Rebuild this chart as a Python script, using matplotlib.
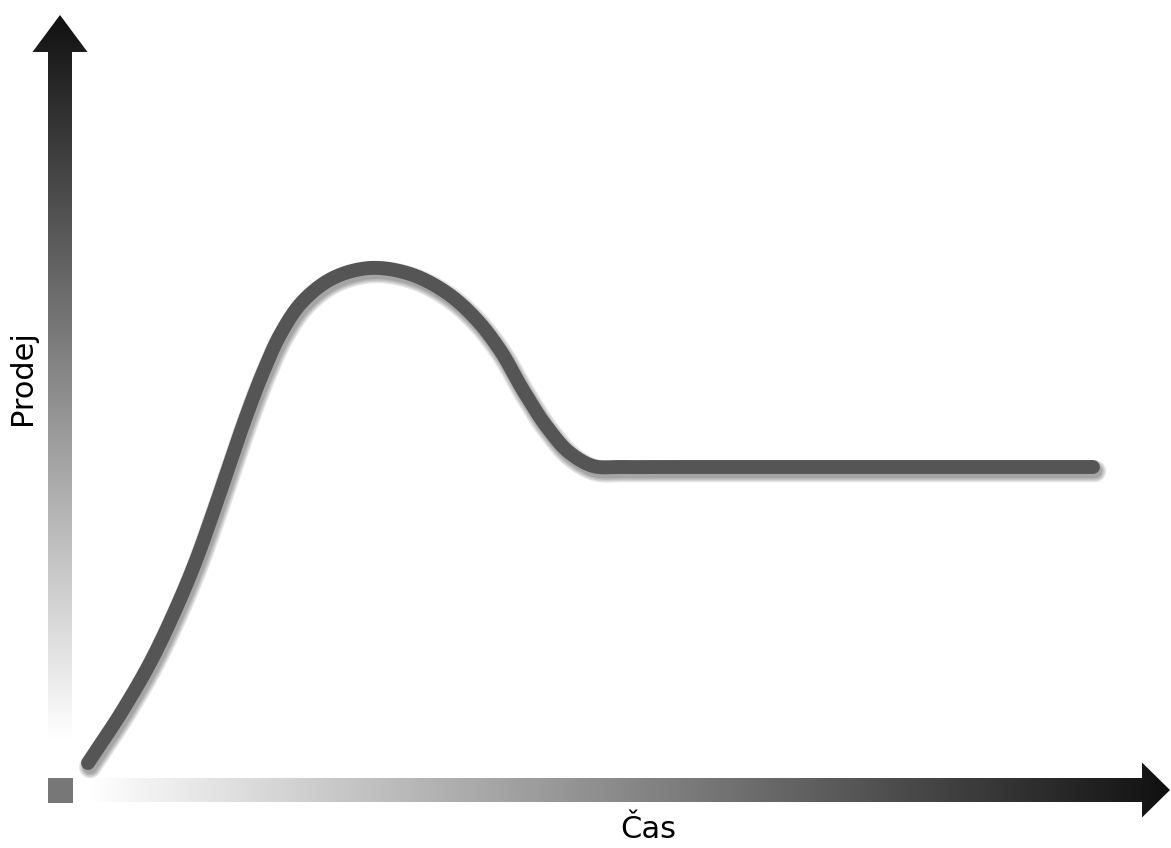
import numpy as np
import matplotlib
matplotlib.use("Agg")
import matplotlib.pyplot as plt
from matplotlib.patches import Polygon, Rectangle
from matplotlib.colors import LinearSegmentedColormap
import matplotlib.patheffects as pe

# product life cycle: sales (Prodej) over time (Čas)
time = [0.28, 0.61, 0.90, 1.14, 1.35, 1.53, 1.70, 1.87, 2.04, 2.20, 2.43,
        2.73, 3.10, 3.47, 3.87, 4.17, 4.40, 4.63, 4.87, 5.10, 5.33, 5.60,
        5.90, 6.40, 10.33]
sales = [0.27, 0.77, 1.27, 1.77, 2.27, 2.77, 3.27, 3.76, 4.20, 4.55, 4.89,
         5.12, 5.22, 5.17, 4.97, 4.70, 4.40, 4.00, 3.63, 3.37, 3.24, 3.23,
         3.23, 3.23, 3.23]

x_label = "Čas"
y_label = "Prodej"


def smooth(xs, ys, n=40):
    # round the line between the read points: cubic bezier pieces,
    # tangents weighted by the neighbouring chord lengths
    pts = np.column_stack([xs, ys])
    ext = np.vstack([pts[0], pts, pts[-1]])
    t = np.linspace(0, 1, n)[:, None]

    def tangent(a, b, c):
        da, db = np.linalg.norm(b - a), np.linalg.norm(c - b)
        if da == 0:
            return (c - b) / db
        if db == 0:
            return (b - a) / da
        return ((b - a) / da * db + (c - b) / db * da) / (da + db)

    out = [pts[:1]]
    for i in range(1, len(ext) - 2):
        p0, p1, p2, p3 = ext[i - 1], ext[i], ext[i + 1], ext[i + 2]
        d = np.linalg.norm(p2 - p1)
        c1 = p1 + tangent(p0, p1, p2) * d / 3
        c2 = p2 - tangent(p1, p2, p3) * d / 3
        seg = ((1 - t) ** 3) * p1 + 3 * ((1 - t) ** 2) * t * c1 \
            + 3 * (1 - t) * t ** 2 * c2 + t ** 3 * p2
        out.append(seg[1:])
    out = np.vstack(out)
    return out[:, 0], out[:, 1]


fig = plt.figure(figsize=(11.71, 8.48), dpi=100)
ax = fig.add_axes([0, 0, 1, 1])
ax.axis("off")

xmin, xmax, ymin, ymax = -0.6, 11.11, -0.58, 7.90
grad = LinearSegmentedColormap.from_list("g", ["#ffffff", "#111111"])

# y axis arrow with gradient (white at bottom -> black at top)
v_arrow = Polygon([(-0.12, 0.5), (0.12, 0.5), (0.12, 7.38), (0.275, 7.38),
                   (0.0, 7.75), (-0.275, 7.38), (-0.12, 7.38)],
                  closed=True, facecolor="none", edgecolor="none")
ax.add_patch(v_arrow)
im = ax.imshow(np.linspace(0, 1, 256).reshape(-1, 1), cmap=grad, origin="lower",
               extent=[-0.3, 0.3, 0.5, 7.75], aspect="auto", interpolation="bilinear")
im.set_clip_path(v_arrow)

# x axis arrow with gradient (white at left -> black at right)
h_arrow = Polygon([(0.25, -0.12), (10.82, -0.12), (10.82, -0.275), (11.10, 0.0),
                   (10.82, 0.275), (10.82, 0.12), (0.25, 0.12)],
                  closed=True, facecolor="none", edgecolor="none")
ax.add_patch(h_arrow)
im2 = ax.imshow(np.linspace(0, 1, 256).reshape(1, -1), cmap=grad, origin="lower",
                extent=[0.25, 11.10, -0.3, 0.3], aspect="auto", interpolation="bilinear")
im2.set_clip_path(h_arrow)

# small square at the origin
ax.add_patch(Rectangle((-0.12, -0.13), 0.25, 0.25, facecolor="#777777", edgecolor="none"))

# the curve with a soft shadow below right
shadow = []
for lw in [16, 14, 12, 10]:
    shadow.append(pe.SimpleLineShadow(offset=(1.5, -3), shadow_color="black",
                                      alpha=0.1, linewidth=lw))
sx, sy = smooth(time, sales)
ax.plot(sx, sy, color="#555555", linewidth=10, solid_capstyle="round",
        solid_joinstyle="round", path_effects=shadow + [pe.Normal()])

ax.text(-0.38, 4.12, y_label, rotation=90, ha="center", va="center",
        fontsize=22, color="black")
ax.text(5.88, -0.40, x_label, ha="center", va="center", fontsize=22, color="black")

ax.set_xlim(xmin, xmax)
ax.set_ylim(ymin, ymax)

fig.savefig("out.png", dpi=100, facecolor="white")
